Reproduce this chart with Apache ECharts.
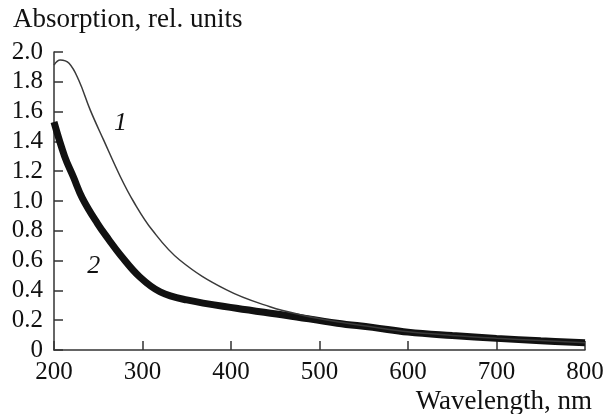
<!DOCTYPE html>
<html>
<head>
<meta charset="utf-8">
<script src="https://cdn.jsdelivr.net/npm/echarts@6/dist/echarts.min.js"></script>
<style>html,body{margin:0;padding:0;background:#fff;}#c{width:607px;height:414px;}</style>
</head>
<body>
<div id="c"></div>
<script>
// Curve 1 (thin line)
const wl1 = [200, 207, 217, 228, 241, 256, 275, 290, 311, 342, 395, 444, 482, 520, 560, 600, 650, 700, 750, 800];
const abs1 = [1.913, 1.946, 1.924, 1.81, 1.61, 1.41, 1.163, 0.995, 0.805, 0.604, 0.403, 0.29, 0.232, 0.19, 0.155, 0.122, 0.098, 0.079, 0.063, 0.049];
// Curve 2 (thick line)
const wl2 = [200, 212, 222, 232, 249, 262, 275, 297, 320, 350, 406, 463, 520, 560, 600, 650, 700, 750, 800];
const abs2 = [1.53, 1.30, 1.16, 1.02, 0.85, 0.74, 0.638, 0.49, 0.39, 0.336, 0.28, 0.232, 0.18, 0.152, 0.12, 0.097, 0.078, 0.062, 0.048];
// Curve labels (wavelength, value)
const curveLabels = [{ text: '1', wl: 275, v: 1.52 }, { text: '2', wl: 245, v: 0.56 }];
const xTicks = [200, 300, 400, 500, 600, 700, 800];
const yTicks = [0, 0.2, 0.4, 0.6, 0.8, 1.0, 1.2, 1.4, 1.6, 1.8, 2.0];

const serif = "'Liberation Serif', 'DejaVu Serif', serif";
const chart = echarts.init(document.getElementById('c'));
const axisCol = '#333';
chart.setOption({
  animation: false,
  backgroundColor: '#fff',
  grid: { left: 54, right: 22, top: 52, bottom: 64 },
  xAxis: {
    type: 'value', min: xTicks[0], max: xTicks[xTicks.length - 1], interval: 100,
    axisLine: { lineStyle: { color: axisCol, width: 1.5 } },
    axisTick: { inside: true, length: 9, lineStyle: { color: axisCol, width: 1.5 } },
    axisLabel: { fontFamily: serif, fontSize: 25, color: '#111', margin: 10 },
    splitLine: { show: false }
  },
  yAxis: {
    type: 'value', min: yTicks[0], max: yTicks[yTicks.length - 1], interval: 0.2,
    axisLine: { show: true, lineStyle: { color: axisCol, width: 1.5 } },
    axisTick: { show: true, inside: true, length: 9, lineStyle: { color: axisCol, width: 1.5 } },
    axisLabel: { fontFamily: serif, fontSize: 25, color: '#111', margin: 11,
      formatter: v => (Math.abs(v) < 1e-9 ? '0' : v.toFixed(1)) },
    splitLine: { show: false }
  },
  graphic: [
    { type: 'text', left: 13, top: 6, style: { text: 'Absorption, rel. units', font: '27px ' + serif, fill: '#111' } },
    { type: 'text', right: 15, top: 388, style: { text: 'Wavelength, nm', font: '27px ' + serif, fill: '#111' } }
  ],
  series: [
    {
      type: 'line', name: '2', data: wl2.map((x, i) => [x, abs2[i]]),
      smooth: 0.4, showSymbol: false, lineStyle: { color: '#111', width: 7 }, z: 2,
      markPoint: {
        symbol: 'circle', symbolSize: 0,
        label: { show: true, fontFamily: serif, fontStyle: 'italic', fontSize: 26, color: '#111', formatter: p => p.name },
        data: [{ name: curveLabels[1].text, coord: [curveLabels[1].wl, curveLabels[1].v] }]
      }
    },
    {
      type: 'line', name: '1', data: wl1.map((x, i) => [x, abs1[i]]),
      smooth: 0.4, showSymbol: false, lineStyle: { color: '#3a3a3a', width: 1.5 }, z: 3,
      markPoint: {
        symbol: 'circle', symbolSize: 0,
        label: { show: true, fontFamily: serif, fontStyle: 'italic', fontSize: 26, color: '#111', formatter: p => p.name },
        data: [{ name: curveLabels[0].text, coord: [curveLabels[0].wl, curveLabels[0].v] }]
      }
    }
  ]
});
</script>
</body>
</html>
